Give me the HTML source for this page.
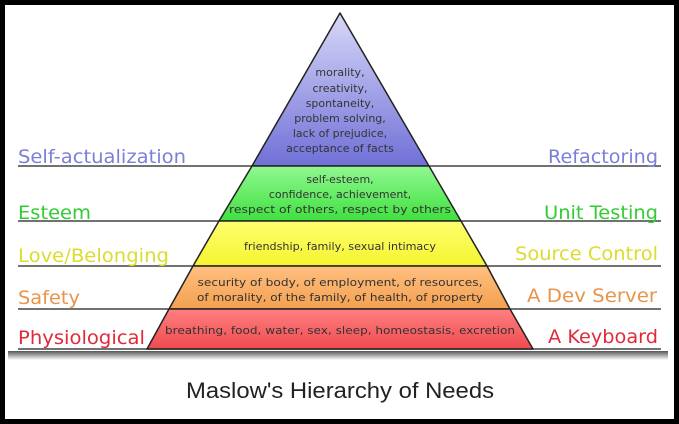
<!DOCTYPE html>
<html><head><style>
html,body{margin:0;padding:0;background:#000;}
svg{position:absolute;left:0;top:0}
</style></head><body>
<svg width="679" height="424" xmlns="http://www.w3.org/2000/svg" font-family="'DejaVu Sans', 'Liberation Sans', sans-serif">
<defs>
<linearGradient id="b" x1="0" y1="0" x2="0" y2="1"><stop offset="0" stop-color="#d8d8f8"/><stop offset="1" stop-color="#7070d8"/></linearGradient>
<linearGradient id="g" x1="0" y1="0" x2="0" y2="1"><stop offset="0" stop-color="#90f890"/><stop offset="1" stop-color="#40e040"/></linearGradient>
<linearGradient id="y" x1="0" y1="0" x2="0" y2="1"><stop offset="0" stop-color="#ffff70"/><stop offset="1" stop-color="#f4f430"/></linearGradient>
<linearGradient id="o" x1="0" y1="0" x2="0" y2="1"><stop offset="0" stop-color="#ffc080"/><stop offset="1" stop-color="#f4a050"/></linearGradient>
<linearGradient id="r" x1="0" y1="0" x2="0" y2="1"><stop offset="0" stop-color="#ff8080"/><stop offset="1" stop-color="#ee4a50"/></linearGradient>
<linearGradient id="s" x1="0" y1="0" x2="0" y2="1"><stop offset="0" stop-color="#555"/><stop offset="1" stop-color="#fff"/></linearGradient>
</defs>
<rect x="5" y="5" width="669" height="414" fill="#fff"/>
<rect x="8" y="351" width="660" height="9" fill="url(#s)"/>
<g stroke="#444" stroke-width="1.5">
<line x1="18" y1="166" x2="661" y2="166"/>
<line x1="18" y1="221" x2="661" y2="221"/>
<line x1="18" y1="266" x2="661" y2="266"/>
<line x1="18" y1="309" x2="661" y2="309"/>
<line x1="18" y1="349" x2="661" y2="349"/>
</g>
<g stroke="#222" stroke-width="1.5" stroke-linejoin="round">
<polygon points="340,13 429,166 252,166" fill="url(#b)"/>
<polygon points="252,166 429,166 461,221 219,221" fill="url(#g)"/>
<polygon points="219,221 461,221 487,266 193,266" fill="url(#y)"/>
<polygon points="193,266 487,266 510,309 169,309" fill="url(#o)"/>
<polygon points="169,309 510,309 533,349 147,349" fill="url(#r)"/>
</g>
<g font-size="11" fill="#333" text-anchor="middle">
<text x="340" y="76">morality,</text>
<text x="340" y="92">creativity,</text>
<text x="340" y="107">spontaneity,</text>
<text x="340" y="122">problem solving,</text>
<text x="340" y="137">lack of prejudice,</text>
<text x="340" y="152">acceptance of facts</text>
<text x="340" y="183">self-esteem,</text>
<text x="340" y="198">confidence, achievement,</text>
<text x="340" y="213" textLength="222" lengthAdjust="spacingAndGlyphs">respect of others, respect by others</text>
<text x="340" y="250" textLength="192" lengthAdjust="spacingAndGlyphs">friendship, family, sexual intimacy</text>
<text x="340" y="286" textLength="285" lengthAdjust="spacingAndGlyphs">security of body, of employment, of resources,</text>
<text x="340" y="301" textLength="286" lengthAdjust="spacingAndGlyphs">of morality, of the family, of health, of property</text>
<text x="340" y="334" textLength="350" lengthAdjust="spacingAndGlyphs">breathing, food, water, sex, sleep, homeostasis, excretion</text>
</g>
<g font-size="19" lengthAdjust="spacingAndGlyphs">
<text x="18" y="163" fill="#7b7fd8" textLength="168" lengthAdjust="spacingAndGlyphs">Self-actualization</text>
<text x="18" y="219" fill="#33cc33" textLength="73" lengthAdjust="spacingAndGlyphs">Esteem</text>
<text x="18" y="262" fill="#dcdc30" textLength="151" lengthAdjust="spacingAndGlyphs">Love/Belonging</text>
<text x="18" y="304" fill="#e8944a" textLength="62" lengthAdjust="spacingAndGlyphs">Safety</text>
<text x="18" y="344" fill="#e02a3a" textLength="127" lengthAdjust="spacingAndGlyphs">Physiological</text>
<text x="548" y="163" fill="#7b7fd8" textLength="110" lengthAdjust="spacingAndGlyphs">Refactoring</text>
<text x="544" y="219" fill="#33cc33" textLength="114" lengthAdjust="spacingAndGlyphs">Unit Testing</text>
<text x="515" y="260" fill="#dcdc30" textLength="143" lengthAdjust="spacingAndGlyphs">Source Control</text>
<text x="527" y="302" fill="#e8944a" textLength="130" lengthAdjust="spacingAndGlyphs">A Dev Server</text>
<text x="548" y="343" fill="#e02a3a" textLength="110" lengthAdjust="spacingAndGlyphs">A Keyboard</text>
</g>
<text x="340" y="398" font-family="'Liberation Sans', sans-serif" font-size="22" fill="#222" text-anchor="middle" textLength="308" lengthAdjust="spacingAndGlyphs">Maslow's Hierarchy of Needs</text>
</svg>
</body></html>
